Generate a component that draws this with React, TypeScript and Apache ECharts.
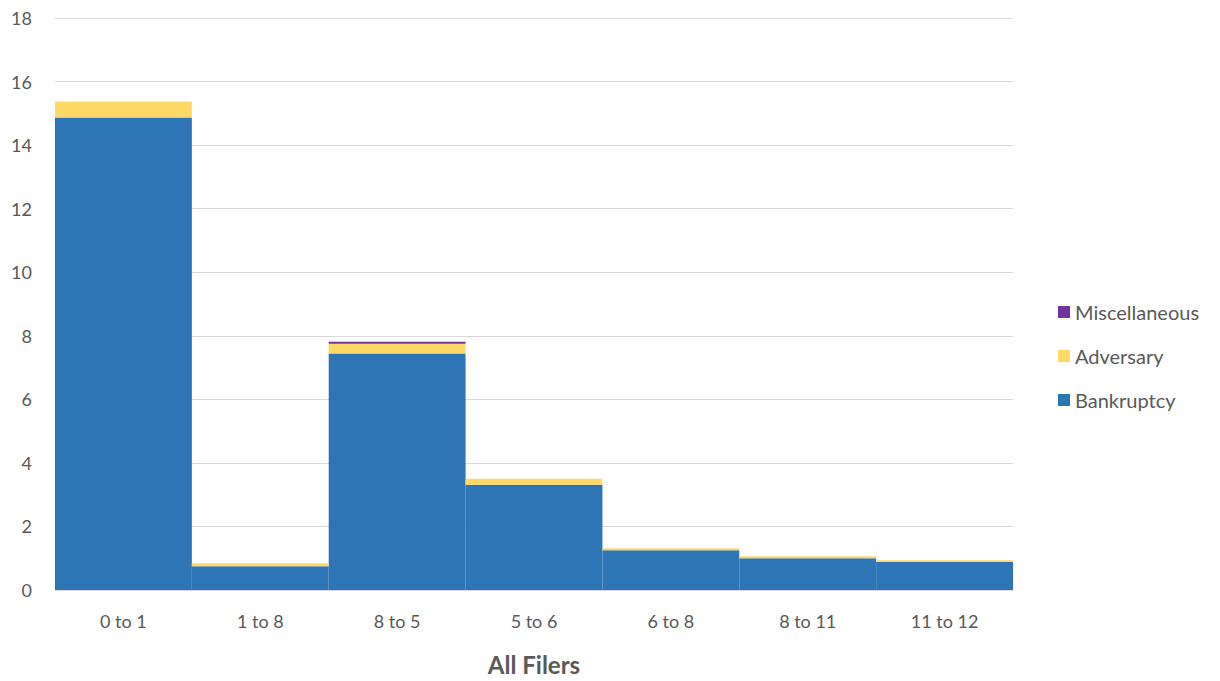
import React, { useEffect, useRef } from "react";
import * as echarts from "echarts";

const categories = ["0 to 1", "1 to 8", "8 to 5", "5 to 6", "6 to 8", "8 to 11", "11 to 12"];
const bankruptcy = [14.87, 0.75, 7.44, 3.31, 1.25, 1.0, 0.88];
const adversary = [0.5, 0.09, 0.31, 0.19, 0.06, 0.06, 0.06];
const miscellaneous = [0, 0, 0.06, 0, 0, 0, 0];
const yTicks = { min: 0, max: 18, interval: 2 };

export default function App() {
  const ref = useRef<HTMLDivElement>(null);
  useEffect(() => {
    if (!ref.current) return;
    const chart = echarts.init(ref.current, undefined, { renderer: "svg" });
    const font = "Lato, 'Open Sans', sans-serif";
    chart.setOption({
      animation: false,
      textStyle: { fontFamily: font },
      grid: { left: 55, right: 207, top: 18, bottom: 87, containLabel: false },
      legend: {
        orient: "vertical",
        left: 1053,
        top: 297,
        itemWidth: 12,
        itemHeight: 12,
        itemGap: 24,
        icon: "rect",
        data: ["Miscellaneous", "Adversary", "Bankruptcy"],
        textStyle: { fontSize: 20, color: "#595959", fontFamily: font },
      },
      xAxis: {
        type: "category",
        data: categories,
        name: "All Filers",
        nameLocation: "middle",
        nameGap: 62,
        nameTextStyle: { fontSize: 24, fontWeight: "bold", color: "#595959", fontFamily: font },
        axisLine: { lineStyle: { color: "#d9d9d9", width: 1 } },
        axisTick: { show: false },
        axisLabel: { fontSize: 18, color: "#595959", margin: 22 },
      },
      yAxis: {
        type: "value",
        min: yTicks.min,
        max: yTicks.max,
        interval: yTicks.interval,
        axisLine: { show: false },
        axisTick: { show: false },
        axisLabel: { fontSize: 18, color: "#595959", margin: 23 },
        splitLine: { lineStyle: { color: "#d9d9d9", width: 1 } },
      },
      series: [
        { name: "Bankruptcy", type: "bar", stack: "t", data: bankruptcy, barCategoryGap: "0%", itemStyle: { color: "#2e75b6" } },
        { name: "Adversary", type: "bar", stack: "t", data: adversary, barCategoryGap: "0%", itemStyle: { color: "#ffd966" } },
        { name: "Miscellaneous", type: "bar", stack: "t", data: miscellaneous, barCategoryGap: "0%", itemStyle: { color: "#7030a0" } },
      ],
    });
    return () => chart.dispose();
  }, []);
  return <div ref={ref} style={{ position: "absolute", left: 0, top: 0, width: 1220, height: 681 }} />;
}
